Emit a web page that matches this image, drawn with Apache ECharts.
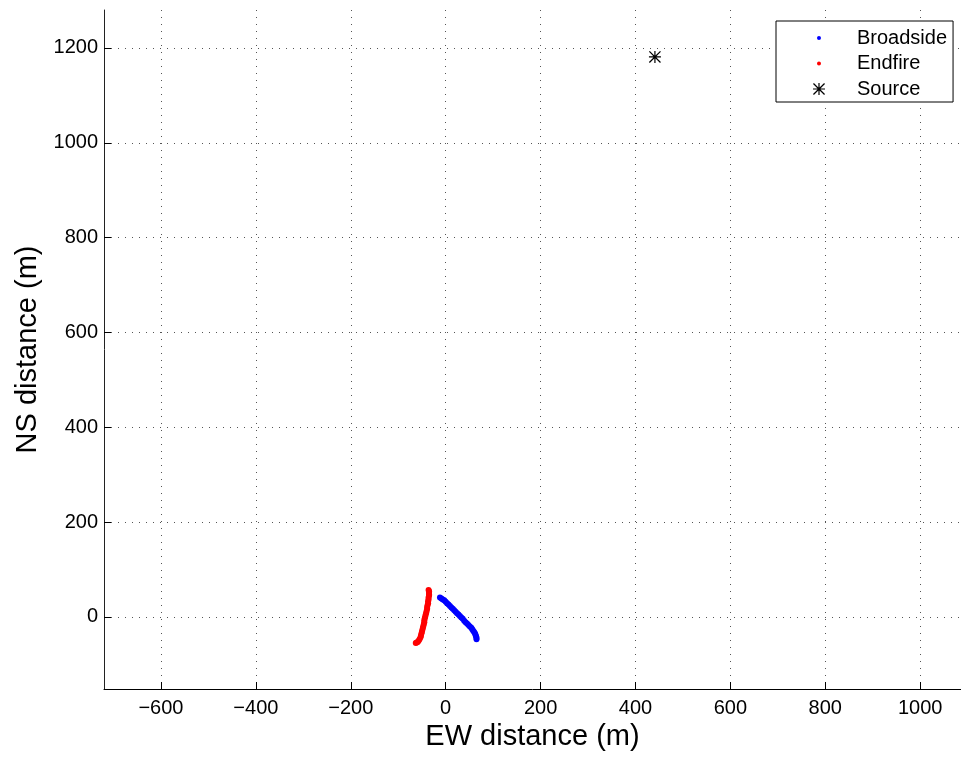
<!DOCTYPE html>
<html>
<head>
<meta charset="utf-8">
<script src="https://cdn.jsdelivr.net/npm/echarts@6/dist/echarts.min.js"></script>
<style>
html,body{margin:0;padding:0;background:#fff;}
#chart{width:961px;height:757px;}
</style>
</head>
<body>
<div id="chart"></div>
<script>
// EW / NS positions (m)
var broadside = [
  [-12,41],[-9,39],[-6,37],[-3,35],[0,32],[3,29],[6,26],[9,23],[12,20],[15,17],
  [18,14],[21,11],[24,8],[27,5],[30,2],[33,-1],[36,-4],[39,-8],[42,-11],[45,-14],
  [48,-17],[51,-20],[54,-23],[56,-26],[58,-29],[60,-32],[62,-35],[63,-38],
  [64,-41],[65,-44],[65,-47]
];
var endfire = [
  [-36,57],[-35,54],[-35,51],[-35,48],[-35,45],[-36,41],[-36,37],[-37,33],
  [-37,29],[-38,25],[-39,21],[-39,17],[-40,13],[-41,9],[-42,5],[-43,1],
  [-44,-3],[-45,-7],[-45,-11],[-46,-15],[-47,-19],[-48,-23],[-49,-27],
  [-50,-31],[-51,-35],[-52,-39],[-53,-43],[-55,-47],[-57,-50],[-59,-53],
  [-61,-54],[-63,-55]
];
var source = [[441,1181]];
var xTicks = [-600,-400,-200,0,200,400,600,800,1000];
var yTicks = [0,200,400,600,800,1000,1200];
var seriesNames = ['Broadside','Endfire','Source'];

var dotIcon = 'path://M0,0h0.01v0.01h-0.01z M12,12h0.01v0.01h-0.01z M4,6a2,2 0 1,0 4,0a2,2 0 1,0 -4,0z';
var starIcon = 'path://M5.4,0h1.2v12h-1.2z M0,5.4h12v1.2h-12z M0.9,0L12,11.1L11.1,12L0,0.9z M11.1,0L12,0.9L0.9,12L0,11.1z';

function fmt(v){ return String(v).replace('-', '\u2212'); }

var gridLine = {show:true, lineStyle:{color:'#555', width:1, type:[1,6]}};
var chart = echarts.init(document.getElementById('chart'), null, {renderer:'canvas'});
chart.setOption({
  animation:false,
  backgroundColor:'#fff',
  textStyle:{fontFamily:'Liberation Sans, Arial, Helvetica, sans-serif'},
  grid:{left:104, top:10, right:0, bottom:68, containLabel:false, outerBoundsMode:'none'},
  xAxis:{
    type:'value', min:-720, max:1086,
    name:'EW distance (m)', nameLocation:'middle', nameGap:33,
    nameTextStyle:{fontSize:29, color:'#000', fontFamily:'Liberation Sans, Arial, sans-serif'},
    axisLine:{show:true, onZero:false, lineStyle:{color:'#000', width:1}},
    axisTick:{show:true, inside:true, length:7, customValues:xTicks, lineStyle:{color:'#000'}},
    axisLabel:{customValues:xTicks, fontSize:20, color:'#000', margin:9, formatter:fmt},
    splitLine:gridLine
  },
  yAxis:{
    type:'value', min:-152, max:1280,
    name:'NS distance (m)', nameLocation:'middle', nameGap:61, nameRotate:90,
    nameTextStyle:{fontSize:29, color:'#000', fontFamily:'Liberation Sans, Arial, sans-serif'},
    axisLine:{show:true, onZero:false, lineStyle:{color:'#222', width:1}},
    axisTick:{show:true, inside:true, length:7, customValues:yTicks, lineStyle:{color:'#000'}},
    axisLabel:{customValues:yTicks, fontSize:20, color:'#000', margin:6, padding:[4,0,0,0], formatter:fmt},
    splitLine:gridLine
  },
  legend:{
    orient:'vertical', left:776, top:21,
    padding:[7,6,3,37], itemGap:5.5, itemWidth:12, itemHeight:12,
    backgroundColor:'#fff', borderColor:'#000', borderWidth:1, borderRadius:0,
    textStyle:{fontSize:20, color:'#000', lineHeight:20, padding:[0,0,0,27]},
    data:[
      {name:seriesNames[0], icon:dotIcon, itemStyle:{color:'#0000ff'}},
      {name:seriesNames[1], icon:dotIcon, itemStyle:{color:'#ff0000'}},
      {name:seriesNames[2], icon:starIcon, itemStyle:{color:'#000'}}
    ]
  },
  series:[
    {name:seriesNames[0], type:'scatter', data:broadside, symbol:'circle', symbolSize:6,
     itemStyle:{color:'#0000ff', opacity:1}},
    {name:seriesNames[1], type:'scatter', data:endfire, symbol:'circle', symbolSize:6,
     itemStyle:{color:'#ff0000', opacity:1}},
    {name:seriesNames[2], type:'scatter', data:source, symbol:starIcon, symbolSize:12,
     itemStyle:{color:'#000', opacity:1}}
  ]
});
</script>
</body>
</html>
